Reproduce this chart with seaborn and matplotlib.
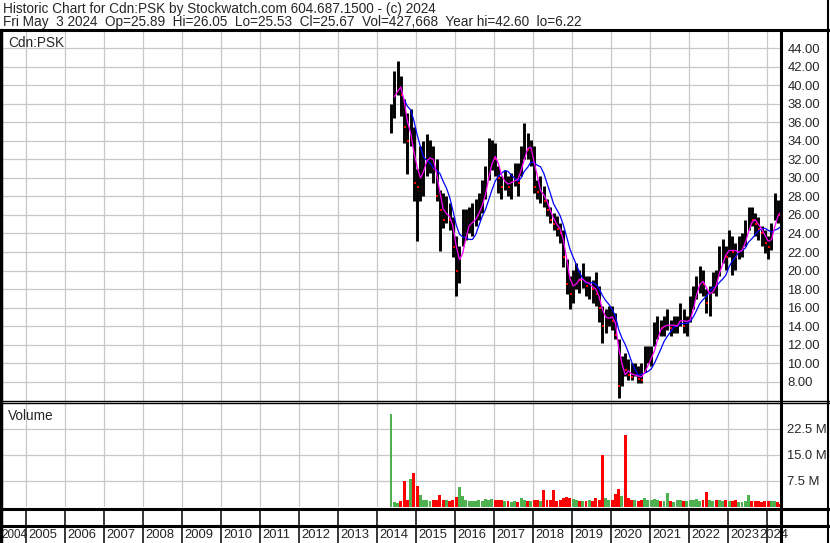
import numpy as np
import pandas as pd
import matplotlib
matplotlib.use("Agg")
import matplotlib.pyplot as plt
from matplotlib.lines import Line2D
import seaborn as sns

# monthly bars, May 2014 .. May 2024
months = pd.period_range("2014-05", "2024-05", freq="M")
last_day = pd.Timestamp("2024-05-03")

high = [38.0, 41.5, 42.6, 41.0, 38.5, 37.0, 37.4, 35.5,                          # 2014
        31.0, 33.5, 34.0, 34.7, 34.1, 33.4, 32.0, 28.7, 28.4, 28.0, 27.3, 25.8,  # 2015
        23.7, 22.6, 26.6, 26.6, 26.9, 27.3, 27.7, 28.4, 29.8, 31.3, 34.3, 34.1,  # 2016
        33.8, 31.3, 30.2, 30.9, 30.2, 30.5, 31.6, 31.6, 33.4, 35.9, 34.9, 34.1,  # 2017
        33.5, 29.8, 30.2, 29.1, 27.7, 26.9, 26.2, 25.9, 25.1, 24.4, 21.2, 19.4,  # 2018
        20.1, 20.8, 20.1, 20.8, 19.4, 19.4, 19.0, 19.8, 18.3, 16.2, 15.8, 16.2,  # 2019
        16.2, 15.4, 12.6, 10.8, 11.1, 10.4, 10.0, 10.0, 9.7, 10.0, 11.8, 11.8,   # 2020
        11.8, 14.4, 15.1, 14.7, 15.1, 15.8, 14.7, 15.1, 15.1, 16.5, 15.8, 15.1,  # 2021
        17.2, 18.3, 19.4, 20.5, 20.1, 18.0, 18.3, 19.8, 20.1, 22.6, 23.4, 22.6,  # 2022
        24.4, 23.7, 23.0, 23.7, 24.0, 25.5, 26.9, 26.9, 26.2, 25.8, 24.8, 24.4,  # 2023
        23.7, 25.1, 28.4, 27.6, 26.05]                                            # 2024
low = [34.8, 36.5, 39.0, 36.7, 33.8, 30.4, 33.5, 27.5,
       23.2, 27.5, 28.0, 30.2, 30.5, 29.5, 27.5, 22.1, 24.6, 25.1, 24.4, 21.5,
       17.2, 18.6, 22.6, 23.3, 24.0, 23.7, 24.8, 25.5, 26.2, 27.7, 29.8, 30.9,
       30.2, 28.4, 27.7, 28.7, 28.0, 27.7, 29.1, 28.0, 30.2, 32.0, 32.0, 31.3,
       28.4, 27.7, 27.3, 26.9, 25.9, 25.1, 24.4, 23.7, 23.0, 20.4, 17.5, 15.9,
       16.5, 18.0, 17.6, 18.1, 17.2, 16.9, 16.5, 16.2, 14.4, 12.2, 13.3, 14.0,
       13.6, 12.6, 6.22, 7.5, 8.6, 8.2, 8.2, 8.6, 7.9, 7.9, 9.0, 10.0,
       9.7, 11.8, 12.6, 12.9, 12.9, 13.6, 12.9, 13.3, 13.3, 14.0, 13.3, 12.9,
       14.4, 15.8, 16.9, 17.6, 17.2, 15.4, 15.1, 17.6, 17.2, 19.4, 20.8, 20.1,
       21.5, 19.5, 20.1, 21.2, 21.5, 22.6, 24.4, 24.8, 23.7, 23.3, 22.6, 21.9,
       21.2, 22.2, 25.5, 25.1, 25.53]
close = [37.5, 40.0, 40.5, 39.0, 35.5, 34.0, 35.0, 29.5,
         29.0, 31.5, 31.5, 32.5, 32.5, 31.0, 28.0, 26.5, 25.5, 26.5, 25.5, 22.5,
         20.0, 21.0, 24.5, 25.0, 25.0, 25.5, 26.0, 27.0, 28.0, 29.5, 32.5, 32.5,
         32.0, 30.0, 29.0, 30.0, 29.0, 29.5, 30.5, 29.5, 32.5, 34.0, 33.0, 33.0,
         29.0, 28.5, 28.5, 27.5, 26.5, 25.5, 25.0, 24.5, 24.0, 21.5, 18.5, 17.5,
         19.0, 19.2, 19.0, 19.0, 18.3, 18.5, 18.0, 17.5, 16.0, 14.0, 15.0, 15.5,
         14.5, 13.0, 7.5, 9.5, 9.3, 8.7, 8.5, 9.0, 8.3, 8.2, 10.5, 10.5,
         10.5, 13.0, 14.0, 13.8, 14.0, 14.5, 13.8, 14.0, 14.2, 15.5, 14.0, 14.0,
         16.0, 17.5, 18.5, 19.5, 18.5, 16.5, 17.5, 19.0, 18.5, 21.5, 22.0, 21.5,
         23.0, 22.0, 21.5, 22.5, 22.5, 24.0, 26.0, 25.5, 25.0, 24.5, 24.0, 23.0,
         22.5, 24.5, 27.0, 26.0, 25.67]
# volume in millions
volume = [26.7, 1.2, 1.0, 1.5, 7.4, 2.0, 7.9, 9.6,
          6.0, 3.3, 2.0, 1.8, 1.5, 1.8, 2.0, 3.3, 2.0, 1.8, 1.6, 2.0,
          2.8, 5.5, 3.0, 2.0, 1.5, 1.6, 1.5, 1.8, 1.5, 2.2, 2.0, 2.2,
          2.0, 2.0, 1.8, 1.5, 1.5, 1.4, 1.5, 1.3, 2.5, 1.8, 1.7, 1.5,
          1.8, 2.0, 1.5, 4.8, 2.0, 1.8, 4.8, 1.6, 1.8, 2.5, 2.6, 2.4,
          2.2, 1.8, 1.6, 1.7, 1.5, 2.0, 1.6, 2.5, 1.8, 14.9, 2.5, 2.0,
          2.0, 3.5, 5.0, 3.0, 20.6, 2.5, 2.0, 2.0, 1.6, 1.8, 2.5, 2.0,
          1.8, 2.2, 2.0, 1.6, 1.5, 3.8, 1.5, 1.4, 1.8, 2.0, 1.6, 1.7,
          1.8, 2.0, 2.2, 1.7, 2.0, 4.3, 1.8, 1.5, 1.8, 2.0, 1.6, 1.8,
          1.5, 1.6, 1.8, 1.2, 1.4, 1.5, 3.3, 1.6, 1.5, 1.5, 1.4, 1.5,
          1.5, 1.6, 1.7, 1.3, 0.8]

years = list(range(2004, 2025))
price_ticks = list(range(8, 45, 2))
vol_ticks = [7.5, 15.0, 22.5]

header1 = "Historic Chart for Cdn:PSK by Stockwatch.com 604.687.1500 - (c) 2024"
header2 = ("Fri May  3 2024  Op=25.89  Hi=26.05  Lo=25.53  Cl=25.67  "
           "Vol=427,668  Year hi=42.60  lo=6.22")

df = pd.DataFrame({"high": high, "low": low, "close": close, "vol": volume})
mid = [min(p.start_time + pd.Timedelta(days=14), last_day) for p in months]
df["t"] = [d.year + (d.dayofyear - 1) / 365.25 for d in mid]
df["ma_fast"] = df["close"].rolling(3, min_periods=2).mean()
df["ma_slow"] = df["close"].rolling(7, min_periods=5).mean()
df["down"] = df["close"].diff() < 0

sns.set_style("white")
plt.rcParams["font.family"] = ["Liberation Sans", "DejaVu Sans"]

W, H = 830, 543
fig = plt.figure(figsize=(W / 100, H / 100), dpi=100)


def box(x0, y0, x1, y1):
    return [x0 / W, 1 - y1 / H, (x1 - x0) / W, (y1 - y0) / H]


def hline(y, x0=0, x1=W, lw=1.0):
    fig.add_artist(Line2D([x0 / W, x1 / W], [1 - y / H, 1 - y / H],
                          color="black", lw=lw, transform=fig.transFigure))


def vline(x, y0=0, y1=H, lw=1.0):
    fig.add_artist(Line2D([x / W, x / W], [1 - y0 / H, 1 - y1 / H],
                          color="black", lw=lw, transform=fig.transFigure))


xlim = (2004.367, 2024.367)
grid_kw = dict(color="#c8c8c8", lw=0.9)
TXT = 9.8
TICK = 9.4

# price panel
ax = fig.add_axes(box(1, 31, 781, 401))
ax.vlines(df["t"], df["low"], df["high"], color="black", lw=2.1)
dn = df[df["down"]]
ax.plot(dn["t"] + 0.02, dn["close"], ls="none", marker="s", ms=1.7,
        color="#ff0000", mew=0)
sns.lineplot(data=df, x="t", y="ma_slow", ax=ax, color="#0000ff", lw=0.9)
sns.lineplot(data=df, x="t", y="ma_fast", ax=ax, color="#ff00ff", lw=0.9)
ax.set_xlim(xlim)
ax.set_ylim(5.91, 45.87)
ax.set_xticks(years[1:])
ax.set_xticklabels([])
ax.set_yticks(price_ticks)
ax.set_yticklabels([f"{v:.2f}" for v in price_ticks])
ax.yaxis.tick_right()
ax.tick_params(length=0, labelsize=TICK, pad=4.5)
ax.grid(True, **grid_kw)
ax.set_axisbelow(True)
ax.set_xlabel("")
ax.set_ylabel("")
for s in ax.spines.values():
    s.set_visible(False)
ax.text(0.009, 0.968, "Cdn:PSK", transform=ax.transAxes, fontsize=TXT,
        va="center", ha="left")

# volume panel
axv = fig.add_axes(box(1, 403, 781, 506.5))
vcol = np.where(df["down"], "#ff0000", "#4fb04f")
axv.bar(df["t"], df["vol"], width=0.9 / 12, color=vcol, linewidth=0)
axv.set_xlim(xlim)
axv.set_ylim(0, 29.86)
axv.set_xticks(years[1:])
axv.set_xticklabels([])
axv.set_yticks(vol_ticks)
axv.set_yticklabels([f"{v:.1f} M" for v in vol_ticks])
axv.yaxis.tick_right()
axv.tick_params(length=0, labelsize=TICK, pad=4.5)
axv.grid(True, **grid_kw)
axv.set_axisbelow(True)
for s in axv.spines.values():
    s.set_visible(False)
axv.text(0.009, 0.87, "Volume", transform=axv.transAxes, fontsize=TXT,
         va="center", ha="left")

# year strip and labels
axs = fig.add_axes(box(1, 508, 781, 543))
axs.set_xlim(xlim)
axs.set_ylim(0, 1)
axs.axis("off")
axs.vlines(years[1:], 0, 1, color="black", lw=1.1)
for y in years:
    if y == 2004:
        axs.text(2004.37, 0.24, str(y), ha="left", va="center", fontsize=8.4)
    elif y == 2024:
        axs.text(2024.55, 0.24, str(y), ha="right", va="center", fontsize=TICK,
                 clip_on=False)
    else:
        axs.text(y + 0.06, 0.24, str(y), ha="left", va="center", fontsize=TICK)

# borders
hline(30, lw=2.2)
hline(400.5, lw=1.0)
hline(402.7, lw=1.0)
hline(508.5, lw=2.2)
hline(526.2, lw=2.2)
vline(1, 30, H, lw=2.5)
vline(781, 30, H, lw=2.2)
vline(828, 0, H, lw=1.5)

fig.text(3 / W, 1 - 9 / H, header1, fontsize=TXT, va="center", ha="left")
fig.text(3 / W, 1 - 22 / H, header2, fontsize=TXT, va="center", ha="left")

fig.savefig("out.png", dpi=100)
